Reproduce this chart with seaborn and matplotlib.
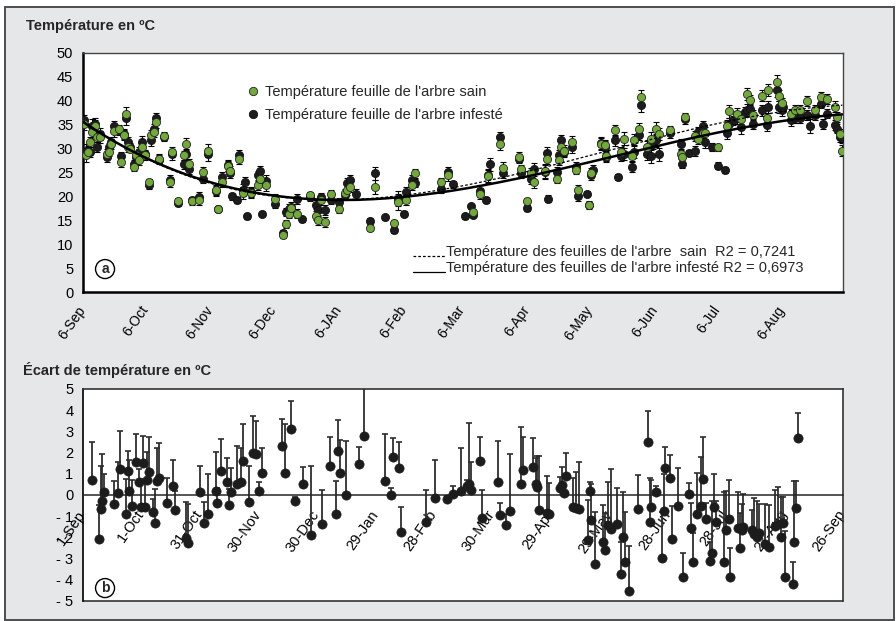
import numpy as np
import matplotlib
matplotlib.use("Agg")
import matplotlib.pyplot as plt
import seaborn as sns
from matplotlib.patches import Rectangle
from matplotlib.lines import Line2D
from matplotlib.legend_handler import HandlerLine2D

# ---------------------------------------------------------------
# (a) Leaf temperature (°C), days counted from 6 September
# ---------------------------------------------------------------
jours_haut = [
    0.3, 1.3, 2.4, 3.5, 4.5, 5.6, 6.7, 8.0, 11.5, 12.4,
    13.5, 14.7, 17.2, 18.3, 19.4, 20.4, 21.5, 22.6, 24.2, 25.5,
    26.8, 28.3, 29.5, 31.5, 32.6, 33.8, 34.7, 36.3, 38.5, 41.4,
    42.5, 45.4, 48.3, 49.4, 50.5, 52.2, 55.4, 57.3, 59.7, 63.4,
    64.5, 66.6, 69.3, 70.4, 71.3, 73.6, 74.4, 76.4, 77.4, 78.4,
    80.4, 83.6, 84.6, 85.5, 87.6, 91.6, 95.6, 97.1, 98.4, 99.5,
    102.4, 104.6, 108.6, 111.5, 112.3, 113.6, 115.5, 118.3, 122.3, 125.0,
    126.1, 127.4, 130.3, 137.3, 139.4, 144.4, 148.6, 150.5, 153.4, 154.2,
    157.2, 158.5, 171.2, 174.4, 176.5, 182.4, 185.5, 186.3, 189.5, 192.7,
    193.5, 194.3, 199.4, 200.4, 208.3, 209.4, 212.3, 214.2, 215.5, 220.6,
    221.7, 222.3, 226.2, 227.4, 228.5, 229.7, 233.8, 235.4, 236.5, 240.5,
    241.6, 242.6, 243.4, 247.2, 249.2, 250.0, 254.3, 255.6, 256.9, 258.3,
    262.3, 263.4, 265.5, 266.3, 269.5, 271.1, 272.3, 273.6, 275.2, 280.3,
    285.4, 286.3, 287.5, 289.5, 292.4, 293.8, 296.2, 297.3, 300.5, 303.4,
    306.6, 307.4, 308.6, 310.6, 312.2, 314.5, 316.1, 317.2, 318.5, 320.1,
    324.1, 326.5, 327.3, 331.3, 332.5, 333.7, 334.4, 338.4, 340.0, 342.4,
    345.6, 347.2, 349.6, 352.3, 353.6, 355.2, 359.2, 360.3, 361.6, 362.7,
]
nan = np.nan
temp_sain = [
    35.1, 28.6, 29.3, 31.4, 33.5, 34.7, 32.4, 32.4, 28.9, 29.3,
    31.0, 33.6, 34.2, 27.1, 32.8, 37.3, 30.3, 30.0, 26.2, 28.6,
    27.7, 30.3, 28.6, 23.0, 32.8, 33.5, 35.6, 27.9, 32.6, 23.0,
    29.3, 19.0, 28.6, 31.0, 26.8, 19.0, 19.2, 25.1, 29.6, 21.3,
    17.4, 23.0, 26.4, 25.3, nan, nan, 27.9, 20.7, nan, nan,
    20.7, 22.3, 23.7, nan, 22.3, 19.5, 11.9, 14.2, 16.4, 17.5,
    16.4, nan, 20.2, 16.0, 15.0, 19.2, 14.6, 20.6, 17.4, 20.7,
    21.3, 22.0, nan, 13.4, 22.0, nan, 14.4, 18.8, nan, 19.2,
    22.3, 24.8, 23.0, 24.4, nan, nan, nan, 16.7, 20.6, nan,
    24.2, nan, 30.9, 26.0, 28.2, 25.7, 19.0, 24.8, 23.0, 25.3,
    27.9, nan, 23.7, 27.7, 30.3, 29.6, 31.4, 25.5, 21.3, nan,
    18.3, 24.9, nan, 31.0, 30.7, 28.5, 33.8, nan, 29.3, 32.1,
    28.4, 31.9, 34.2, 40.8, 30.3, 32.1, nan, 34.2, 33.1, 33.8,
    28.8, 28.2, 36.6, nan, 32.6, 32.1, 33.3, 33.3, nan, 30.3,
    nan, 34.7, 37.8, nan, 37.2, 36.1, nan, 41.4, 40.2, 37.0,
    41.1, 36.3, 42.3, 43.9, 41.1, 39.5, nan, 37.2, 38.1, 38.1,
    40.0, nan, 38.1, 40.8, nan, 40.4, 38.8, 36.6, 33.1, 29.6,
]
temp_infeste = [
    35.9, 29.6, 29.6, 29.3, 34.7, 35.2, 30.3, 33.1, 28.2, 30.3,
    31.4, 34.7, 33.6, 28.4, 33.1, 36.3, 31.4, 30.3, 26.7, 28.2,
    29.3, 31.4, 28.9, 22.3, 31.7, 34.2, 36.3, 27.7, 32.4, 23.5,
    28.8, 18.6, 26.7, 28.8, 25.8, 19.2, 19.9, 23.7, 28.8, 21.1,
    17.3, 24.1, 26.5, 24.9, 20.0, 19.2, 28.6, 21.3, 23.0, 15.8,
    20.9, 24.4, 25.3, 16.4, 23.2, 18.5, 12.4, 16.7, 17.4, 17.8,
    19.4, 15.2, 19.9, 18.3, 17.1, 19.9, 17.2, 19.2, 18.8, 20.2,
    22.8, 23.4, 20.4, 14.9, 24.8, 15.6, 12.9, 19.5, 16.4, 20.9,
    23.4, 22.8, 21.6, 25.1, 22.5, 15.8, 17.9, 16.2, 21.1, 19.2,
    24.4, 26.7, 32.4, 24.9, 27.9, 24.8, 17.6, 23.7, 25.8, 25.1,
    29.1, 19.5, 25.1, 28.6, 31.7, 29.3, 30.3, 26.2, 20.0, 20.6,
    18.1, 24.4, 25.6, 31.2, 30.3, 28.2, 31.7, 24.1, 28.4, 28.9,
    26.2, 29.3, 32.8, 39.1, 28.9, 28.4, 31.0, 31.7, 28.8, 33.3,
    31.0, 26.8, 36.1, 29.1, 29.5, 33.5, 34.7, 31.4, 30.3, 26.4,
    25.6, 33.3, 35.2, 35.9, 36.5, 34.5, 37.7, 38.1, 38.3, 35.1,
    38.0, 34.9, 38.7, 42.3, 38.7, 38.0, 38.7, 35.9, 36.3, 36.3,
    37.0, 34.7, 37.0, 39.4, 35.2, 37.3, 34.9, 34.2, 32.4, 32.3,
]
erreur_haut = [
    1.2, 1.3, 1.0, 1.1, 1.4, 1.2, 1.0, 1.2, 1.1, 0.9,
    1.0, 1.1, 0.8, 0.9, 1.0, 1.4, 1.0, 0.8, 0.9, 1.0,
    1.1, 1.2, 0.9, 0.7, 1.1, 1.0, 1.2, 0.9, 0.8, 1.0,
    1.1, 0.6, 1.0, 1.2, 1.1, 0.7, 1.1, 1.0, 1.4, 1.0,
    0.6, 1.1, 1.1, 1.0, 0.7, 0.6, 1.1, 1.2, 1.1, 0.5,
    1.0, 1.0, 1.0, 0.5, 1.2, 1.0, 0.6, 0.9, 1.0, 1.0,
    1.0, 0.5, 0.8, 1.0, 0.9, 0.9, 1.0, 0.8, 0.9, 0.8,
    1.0, 1.1, 1.2, 0.6, 1.4, 0.5, 0.6, 1.6, 0.5, 1.0,
    1.0, 0.9, 0.9, 1.1, 0.8, 0.5, 0.6, 0.6, 1.2, 0.6,
    1.4, 1.4, 1.1, 1.1, 1.0, 0.9, 0.7, 1.1, 1.2, 1.4,
    1.2, 0.7, 1.0, 1.2, 1.2, 1.1, 1.2, 0.9, 1.0, 0.6,
    0.7, 1.0, 0.9, 1.2, 1.2, 1.0, 1.1, 0.6, 1.0, 1.3,
    1.0, 1.2, 1.1, 1.5, 1.2, 1.4, 1.0, 1.3, 1.3, 1.0,
    1.0, 0.9, 0.9, 0.6, 1.1, 1.1, 1.0, 1.2, 0.9, 0.7,
    0.6, 1.2, 1.3, 1.0, 1.3, 1.4, 1.0, 1.2, 1.1, 1.1,
    1.2, 1.2, 1.2, 1.5, 1.2, 1.1, 1.0, 1.1, 1.0, 1.0,
    1.1, 1.4, 1.0, 1.0, 1.0, 1.0, 1.1, 1.0, 1.1, 1.2,
]
ticks_haut = [0, 30, 61, 91, 122, 153, 181, 212, 242, 273, 303, 334]
etiquettes_haut = ["6-Sep", "6-Oct", "6-Nov", "6-Dec", "6-JAn", "6-Feb",
                   "6-Mar", "6-Apr", "6-May", "6-Jun", "6-Jul", "6-Aug"]
r2_sain = "0,7241"
r2_infeste = "0,6973"

# ---------------------------------------------------------------
# (b) Temperature difference (°C), days counted from 1 September
# ---------------------------------------------------------------
jours_bas = [
    4.8, 8.2, 9.1, 9.9, 10.9, 15.9, 17.8, 18.8, 22.1, 22.9,
    23.8, 25.3, 27.0, 28.9, 29.8, 30.8, 32.0, 32.8, 34.0, 35.9,
    37.1, 38.0, 39.2, 43.1, 46.2, 47.2, 52.8, 53.9, 60.0, 61.9,
    64.0, 68.1, 68.9, 71.0, 73.9, 74.9, 75.8, 78.8, 81.1, 81.9,
    85.0, 87.4, 88.9, 90.3, 92.0, 101.9, 103.8, 106.9, 108.8, 112.9,
    117.0, 122.8, 126.9, 130.0, 130.8, 131.9, 135.1, 141.8, 144.0, 155.0,
    157.9, 159.1, 162.0, 163.0, 175.8, 180.8, 187.0, 189.7, 193.8, 196.9,
    198.0, 199.1, 203.9, 204.9, 213.0, 213.8, 216.9, 218.9, 224.9, 225.8,
    230.7, 232.3, 233.1, 234.0, 238.2, 239.3, 244.7, 245.9, 246.9, 247.9,
    251.5, 253.1, 254.7, 259.1, 260.0, 260.9, 262.9, 266.9, 267.9, 269.6,
    270.9, 274.0, 275.9, 276.9, 277.9, 280.2, 284.9, 290.1, 291.1, 291.6,
    293.8, 296.9, 298.1, 298.9, 301.0, 302.0, 305.1, 308.0, 311.1, 311.9,
    312.9, 315.0, 316.9, 318.1, 319.9, 321.9, 322.7, 323.9, 325.0, 328.9,
    329.9, 331.3, 332.0, 336.1, 336.9, 338.0, 338.8, 343.1, 344.5, 345.7,
    347.1, 350.0, 352.1, 355.1, 356.8, 358.2, 359.3, 360.0, 364.1, 364.9,
    365.8, 367.0,
]
ecart = [
    0.71, -2.09, -0.66, -0.28, 0.13, -0.44, 0.08, 1.21, -0.91, 1.13,
    0.19, -0.50, 1.57, 0.63, -0.55, 1.53, -0.58, 0.69, 1.07, -0.79,
    -1.32, 0.66, 0.82, -0.39, 0.44, -0.72, -2.01, -2.28, 0.13, -1.34,
    -0.90, 0.19, -0.38, 1.13, 0.63, -0.47, 0.13, 0.53, 0.63, 1.60,
    -0.31, 2.00, 1.93, 0.19, 1.05, 2.33, 1.05, 3.10, -0.27, 0.50,
    -1.90, -1.35, 1.38, -0.91, 2.08, 1.05, 0.00, 1.46, 2.77, 0.66,
    0.00, 1.78, 1.29, -1.73, -1.29, -0.13, -0.19, 0.03, 0.19, 0.42,
    0.50, 0.24, 1.60, -1.07, 0.60, -0.94, -1.42, -0.74, 0.50, 1.18,
    1.34, 0.50, 0.39, -0.71, -0.86, -0.88, 0.31, 0.47, 0.08, 0.91,
    -0.57, -0.63, -0.66, -2.12, 0.19, -1.18, -3.27, -2.20, -2.58, -1.42,
    -1.60, -1.38, -3.74, -1.97, -3.14, -4.53, -0.66, 2.48, -1.26, -0.55,
    0.13, -2.96, -0.75, 1.26, 0.82, -2.09, -0.50, -3.87, 0.03, -1.57,
    -3.16, -0.91, -0.50, 0.75, -1.13, -3.11, -2.75, -0.57, -1.26, -3.16,
    -1.65, -1.13, -3.87, -1.54, -2.52, -1.67, -1.49, -1.65, -1.84, -1.97,
    -1.78, -2.33, -2.47, -1.46, -1.38, -1.97, -1.34, -3.85, -4.20, -2.23,
    -0.63, 2.67,
]
erreur_bas = [
    1.81, 1.62, 2.03, 2.20, 0.84, 1.12, 1.49, 1.82, 1.68, 0.96,
    1.46, 1.21, 1.31, 0.60, 1.31, 1.27, 1.18, 1.35, 1.65, 0.59,
    1.60, 1.54, 1.62, 1.21, 1.23, 0.91, 1.70, 1.86, 1.24, 0.99,
    1.87, 1.85, 0.73, 1.50, 1.10, 0.77, 1.13, 1.80, 1.57, 1.73,
    1.69, 1.74, 1.56, 0.44, 1.15, 1.24, 2.28, 1.33, 0.17, 0.84,
    3.27, 1.59, 1.34, 1.57, 1.47, 1.55, 2.55, 0.79, 2.33, 2.23,
    0.35, 0.92, 1.19, 1.16, 1.53, 1.78, 0.14, 0.41, 2.01, 0.29,
    2.88, 1.33, 1.12, 1.29, 1.95, 0.55, 0.51, 2.66, 2.72, 1.54,
    1.36, 1.26, 1.45, 2.57, 1.77, 1.46, 0.54, 0.87, 0.12, 1.07,
    1.39, 1.70, 2.20, 1.88, 0.44, 1.68, 2.48, 1.73, 1.72, 2.05,
    2.83, 1.69, 1.54, 2.10, 2.35, 2.14, 1.60, 1.50, 2.05, 1.25,
    0.31, 2.17, 1.72, 1.00, 1.07, 1.59, 1.76, 1.15, 0.55, 1.18,
    1.35, 1.93, 2.31, 2.00, 0.73, 0.91, 2.47, 1.57, 0.98, 3.32,
    1.84, 1.84, 1.39, 1.70, 1.66, 1.23, 1.52, 0.94, 1.71, 1.69,
    1.34, 1.89, 2.00, 1.70, 1.77, 1.89, 1.26, 2.15, 1.06, 2.91,
    1.29, 1.21,
]
ticks_bas = [0, 30, 60, 90, 120, 150, 180, 210, 240, 270, 300, 330, 360, 390]
etiquettes_bas = ["1-Sep", "1-Oct", "31-Oct", "30-Nov", "30-Dec", "29-Jan",
                  "28-Feb", "30-Mar", "29-Apr", "29-May", "28-Jun", "28-Jul",
                  "27-Aug", "26-Sep"]
ticks_y_bas = [5, 4, 3, 2, 1, 0, -1, -2, -3, -4, -5]
etiquettes_y_bas = ["5", "4", "3", "2", "1", "0", "- 1", "- 2", "- 3", "- 4", "- 5"]

# ---------------------------------------------------------------
sns.set_style("white")
plt.rcParams["font.family"] = ["Liberation Sans", "DejaVu Sans"]
plt.rcParams["font.size"] = 10

VERT = "#72a83c"
NOIR = "#1c1c1c"
FOND = "#e6e7e9"

W, H = 896, 621
fig = plt.figure(figsize=(W / 100, H / 100), dpi=100)
fig.patch.set_facecolor("white")
fig.add_artist(Rectangle((5 / W, 1 - 620 / H), 889 / W, 613 / H,
                         transform=fig.transFigure, facecolor=FOND,
                         edgecolor="#4d4d4d", linewidth=1.4, zorder=-10))


class BaselineLine(HandlerLine2D):
    """Legend line drawn on the text baseline, like an underline."""
    def create_artists(self, legend, orig_handle, xdescent, ydescent,
                       width, height, fontsize, trans):
        arts = super().create_artists(legend, orig_handle, xdescent, ydescent,
                                      width, height, fontsize, trans)
        for a in arts:
            a.set_ydata(np.full_like(np.asarray(a.get_xdata(), float), 0.5))
        return arts


# ---------------- panel (a) ----------------
ax1 = fig.add_axes([83 / W, 1 - 292 / H, 760 / W, 239 / H])
ax1.set_facecolor("white")

x_h = np.asarray(jours_haut)
ys = np.asarray(temp_sain, float)
yi = np.asarray(temp_infeste, float)
eh = np.asarray(erreur_haut)

ax1.errorbar(x_h, yi, yerr=eh, fmt="none", ecolor="black", elinewidth=0.8,
             capsize=2.2, capthick=0.8, zorder=2)
ax1.errorbar(x_h, ys, yerr=eh, fmt="none", ecolor="black", elinewidth=0.8,
             capsize=2.2, capthick=0.8, zorder=2)
sns.scatterplot(x=x_h, y=yi, color=NOIR, edgecolor="#111111", linewidth=0.6,
                s=34, ax=ax1, zorder=3, legend=False)
sns.scatterplot(x=x_h, y=ys, color=VERT, edgecolor="#222222", linewidth=0.6,
                s=34, ax=ax1, zorder=4, legend=False)

# polynomial trend lines
for vals, style, lw in [(ys, (0, (2.2, 1.6)), 0.9), (yi, "-", 1.8)]:
    ok = ~np.isnan(vals)
    coef = np.polyfit(x_h[ok], vals[ok], 3)
    xx = np.linspace(x_h[ok].min(), x_h[ok].max(), 300)
    sns.lineplot(x=xx, y=np.polyval(coef, xx), color="black", linestyle=style,
                 linewidth=lw, ax=ax1, zorder=5)

ax1.set_xlim(0, 363)
ax1.set_ylim(0, 50)
ax1.set_yticks(range(0, 51, 5))
ax1.set_xticks(ticks_haut)
ax1.set_xticklabels(etiquettes_haut, rotation=55, ha="right", va="center",
                    rotation_mode="anchor")
ax1.tick_params(axis="y", direction="out", length=5, width=1.0, pad=2,
                labelsize=10.5, colors="black")
ax1.tick_params(axis="x", direction="out", length=5, width=1.2, pad=6,
                labelsize=10, colors="black")
for side in ["left", "bottom"]:
    ax1.spines[side].set_linewidth(1.8)
    ax1.spines[side].set_color("black")
for side in ["top", "right"]:
    ax1.spines[side].set_linewidth(1.0)
    ax1.spines[side].set_color("#444444")
ax1.set_xlabel("")
ax1.set_ylabel("")

h_pts = [Line2D([], [], marker="o", linestyle="none", markersize=6,
                markerfacecolor=VERT, markeredgecolor="#222222", markeredgewidth=0.6),
         Line2D([], [], marker="o", linestyle="none", markersize=6,
                markerfacecolor=NOIR, markeredgecolor="#111111", markeredgewidth=0.6)]
leg1 = ax1.legend(h_pts, ["Température feuille de l'arbre sain",
                          "Température feuille de l'arbre infesté"],
                  loc="upper left", bbox_to_anchor=(0.207, 0.895), frameon=False,
                  handlelength=0.8, handletextpad=0.4, borderpad=0,
                  labelspacing=0.6, fontsize=10.5)
ax1.add_artist(leg1)

h_fit = [Line2D([], [], color="black", linestyle=(0, (2.2, 1.6)), linewidth=0.9),
         Line2D([], [], color="black", linestyle="-", linewidth=0.9)]
ax1.legend(h_fit, [f"Température des feuilles de l'arbre  sain  R2 = {r2_sain}",
                   f"Température des feuilles de l'arbre infesté R2 = {r2_infeste}"],
           loc="upper left", bbox_to_anchor=(0.424, 0.226), frameon=False,
           handlelength=2.2, handletextpad=0.1, borderpad=0, labelspacing=0.15,
           fontsize=10.5, handler_map={Line2D: BaselineLine()})

ax1.text(0.029, 0.096, "a", transform=ax1.transAxes, ha="center", va="center",
         fontsize=10, fontweight="bold",
         bbox=dict(boxstyle="circle,pad=0.18", facecolor="white",
                   edgecolor="black", linewidth=1.0))

fig.text(26 / W, 1 - 26 / H, "Température en ºC", fontsize=10.5,
         fontweight="bold", ha="left", va="center")

# ---------------- panel (b) ----------------
ax2 = fig.add_axes([83 / W, 1 - 601 / H, 760 / W, 212 / H])
ax2.set_facecolor("white")
# x axis runs along the zero line; the frame is closed underneath
ax2.spines["bottom"].set_position(("data", 0))

x_b = np.asarray(jours_bas)
e_b = np.asarray(ecart)
err_b = np.asarray(erreur_bas)
ax2.errorbar(x_b, e_b, yerr=[np.zeros_like(err_b), err_b], fmt="none",
             ecolor="#2e2e2e", elinewidth=1.3, capsize=2.4, capthick=1.2,
             zorder=2)
sns.scatterplot(x=x_b, y=e_b, color=NOIR, edgecolor=NOIR, linewidth=0.5,
                s=44, ax=ax2, zorder=3, legend=False)

ax2.set_xlim(0, 390)
ax2.set_ylim(-5, 5)
ax2.set_yticks(ticks_y_bas)
ax2.set_yticklabels(etiquettes_y_bas)
ax2.set_xticks(ticks_bas)
ax2.set_xticklabels(etiquettes_bas, rotation=55, ha="right", va="center",
                    rotation_mode="anchor")
ax2.spines["bottom"].set_linewidth(1.1)
ax2.axhline(-5, color="#333333", linewidth=1.2, clip_on=False, zorder=1)
for side in ["left", "top", "right"]:
    ax2.spines[side].set_linewidth(1.2)
    ax2.spines[side].set_color("#333333")
ax2.spines["left"].set_color("black")
ax2.tick_params(axis="y", direction="out", length=5, width=1.0, pad=2,
                labelsize=10.5, colors="black")
ax2.tick_params(axis="x", direction="out", length=3, width=1.0, pad=9,
                labelsize=10.5, colors="black")
ax2.set_xlabel("")
ax2.set_ylabel("")

ax2.text(0.029, 0.061, "b", transform=ax2.transAxes, ha="center", va="center",
         fontsize=10, fontweight="bold",
         bbox=dict(boxstyle="circle,pad=0.18", facecolor="white",
                   edgecolor="black", linewidth=1.0))

fig.text(23 / W, 1 - 370 / H, "Écart de température en ºC", fontsize=10.5,
         fontweight="bold", ha="left", va="center")

fig.savefig("out.png", dpi=100, facecolor=fig.get_facecolor())
